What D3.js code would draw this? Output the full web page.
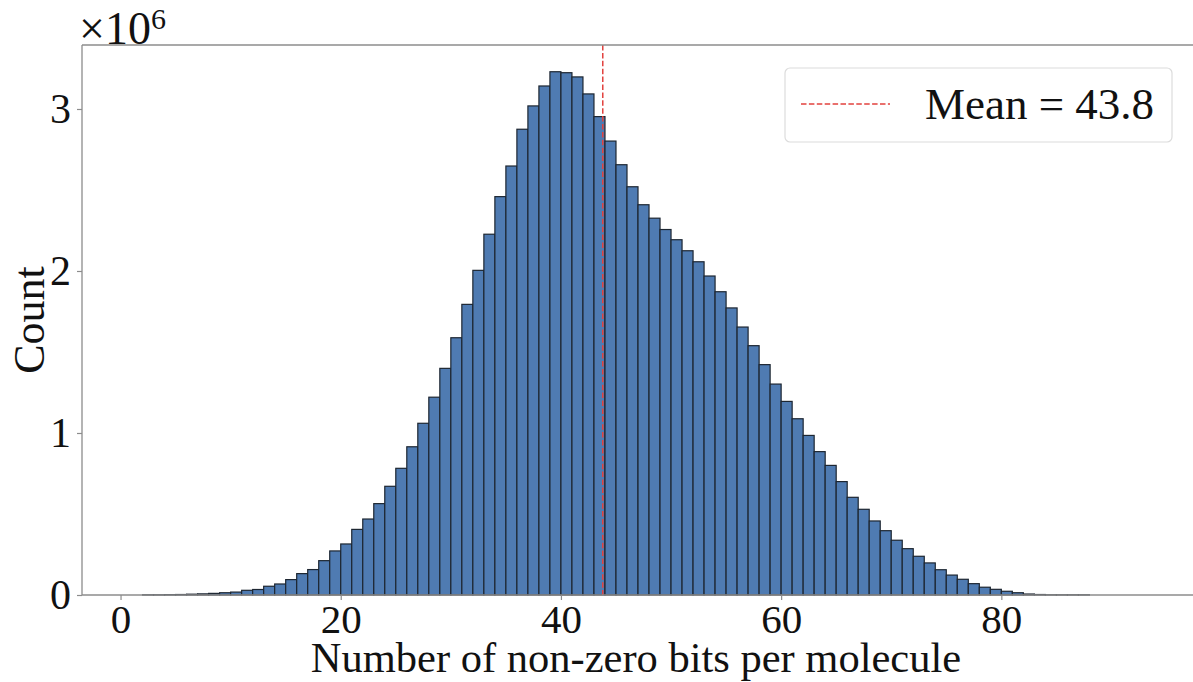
<!DOCTYPE html>
<html>
<head>
<meta charset="utf-8">
<script src="https://cdn.jsdelivr.net/npm/d3@7"></script>
<style>
  html, body { margin: 0; padding: 0; background: #fff; }
  svg { display: block; }
  text { font-family: "Liberation Serif", "DejaVu Serif", serif; fill: #111; }
</style>
</head>
<body>
<svg id="chart" width="1193" height="682"></svg>
<script>
// ---- data (bin left edges are integers; bin width 1) ----
const binStarts = [1,2,3,4,5,6,7,8,9,10,11,12,13,14,15,16,17,18,19,20,
  21,22,23,24,25,26,27,28,29,30,31,32,33,34,35,36,37,38,39,40,
  41,42,43,44,45,46,47,48,49,50,51,52,53,54,55,56,57,58,59,60,
  61,62,63,64,65,66,67,68,69,70,71,72,73,74,75,76,77,78,79,80,
  81,82,83,84,85,86,87,88,89,90,91,92];
// counts in millions (×10^6)
const countsMillions = [0,0.001,0.001,0.002,0.003,0.005,0.007,0.010,0.014,0.018,0.029,0.034,0.054,0.068,0.095,0.132,0.157,0.212,0.272,0.315,
  0.405,0.469,0.564,0.671,0.782,0.915,1.060,1.221,1.399,1.588,1.794,2.004,2.227,2.459,2.648,2.875,3.019,3.142,3.230,3.224,
  3.198,3.093,2.953,2.802,2.656,2.520,2.409,2.326,2.256,2.193,2.125,2.057,1.969,1.872,1.772,1.654,1.539,1.422,1.302,1.195,
  1.088,0.985,0.885,0.800,0.700,0.603,0.529,0.457,0.397,0.338,0.286,0.239,0.198,0.156,0.123,0.097,0.070,0.048,0.035,0.023,
  0.014,0.006,0.003,0.001,0.001,0.001,0.001,0,0,0,0,0];
const meanValue = 43.8;
const xTicks = [0, 20, 40, 60, 80];
const yTicks = [0, 1, 2, 3];
const xLabel = "Number of non-zero bits per molecule";
const yLabel = "Count";
const legendLabel = "Mean = 43.8";

(function () {
// ---- layout ----
const svg = d3.select("#chart");
const mLeft = 82, mTop = 45, mBottom = 595;
const x = d3.scaleLinear().domain([-3.5, 97.5]).range([mLeft, mLeft + 101 * 11.01]);
const y = d3.scaleLinear().domain([0, 3.395]).range([mBottom, mTop]);

const bins = binStarts.map((s, i) => ({ x0: s, x1: s + 1, v: countsMillions[i] }));

// bars
svg.append("g").selectAll("rect").data(bins).join("rect")
  .attr("x", d => x(d.x0))
  .attr("y", d => y(d.v))
  .attr("width", d => x(d.x1) - x(d.x0))
  .attr("height", d => y(0) - y(d.v))
  .attr("fill", "#4f7bb2")
  .attr("stroke", "#1d2631")
  .attr("stroke-width", 1.2);

// mean line
svg.append("line")
  .attr("x1", x(meanValue)).attr("x2", x(meanValue))
  .attr("y1", mTop).attr("y2", mBottom)
  .attr("stroke", "#e2423e")
  .attr("stroke-width", 1.5)
  .attr("stroke-dasharray", "5.5,2.4");

// spines
const spineColor = "#8c8c8c";
svg.append("line").attr("x1", mLeft).attr("x2", 1193).attr("y1", mTop).attr("y2", mTop)
  .attr("stroke", spineColor).attr("stroke-width", 1.3);
svg.append("line").attr("x1", mLeft).attr("x2", 1193).attr("y1", mBottom).attr("y2", mBottom)
  .attr("stroke", spineColor).attr("stroke-width", 1.3);
svg.append("line").attr("x1", mLeft).attr("x2", mLeft).attr("y1", mTop).attr("y2", mBottom)
  .attr("stroke", spineColor).attr("stroke-width", 1.3);

// x axis
const xAxis = d3.axisBottom(x).tickValues(xTicks).tickSize(5).tickPadding(4).tickFormat(d3.format("d"));
const gx = svg.append("g").attr("transform", `translate(0,${mBottom})`).call(xAxis);
gx.select(".domain").remove();
gx.selectAll(".tick line").attr("stroke", spineColor).attr("stroke-width", 1.2);
gx.selectAll(".tick text").attr("font-size", 41).attr("fill", "#111")
  .style("font-family", '"Liberation Serif", serif');

// y axis
const yAxis = d3.axisLeft(y).tickValues(yTicks).tickSize(5).tickPadding(6).tickFormat(d3.format("d"));
const gy = svg.append("g").attr("transform", `translate(${mLeft},0)`).call(yAxis);
gy.select(".domain").remove();
gy.selectAll(".tick line").attr("stroke", spineColor).attr("stroke-width", 1.2);
gy.selectAll(".tick text").attr("font-size", 42).attr("fill", "#111")
  .style("font-family", '"Liberation Serif", serif');

// axis labels
svg.append("text").attr("x", 636).attr("y", 672).attr("text-anchor", "middle")
  .attr("font-size", 42.5).text(xLabel);
svg.append("text").attr("transform", `translate(44,320) rotate(-90)`).attr("text-anchor", "middle")
  .attr("font-size", 44).text(yLabel);

// offset text ×10^6
const off = svg.append("text").attr("x", 79).attr("y", 44).attr("font-size", 46);
off.append("tspan").text("×10");
off.append("tspan").attr("font-size", 30).attr("dy", -15).text("6");

// legend
const lg = svg.append("g");
lg.append("rect").attr("x", 785).attr("y", 68).attr("width", 387).attr("height", 74)
  .attr("rx", 5).attr("fill", "#fff").attr("stroke", "#dcdcdc").attr("stroke-width", 1.2);
lg.append("line").attr("x1", 801).attr("x2", 890).attr("y1", 104).attr("y2", 104)
  .attr("stroke", "#e2423e").attr("stroke-width", 1.5).attr("stroke-dasharray", "5.5,2.4");
lg.append("text").attr("x", 925).attr("y", 119).attr("font-size", 45).text(legendLabel);
})();
</script>
</body>
</html>
